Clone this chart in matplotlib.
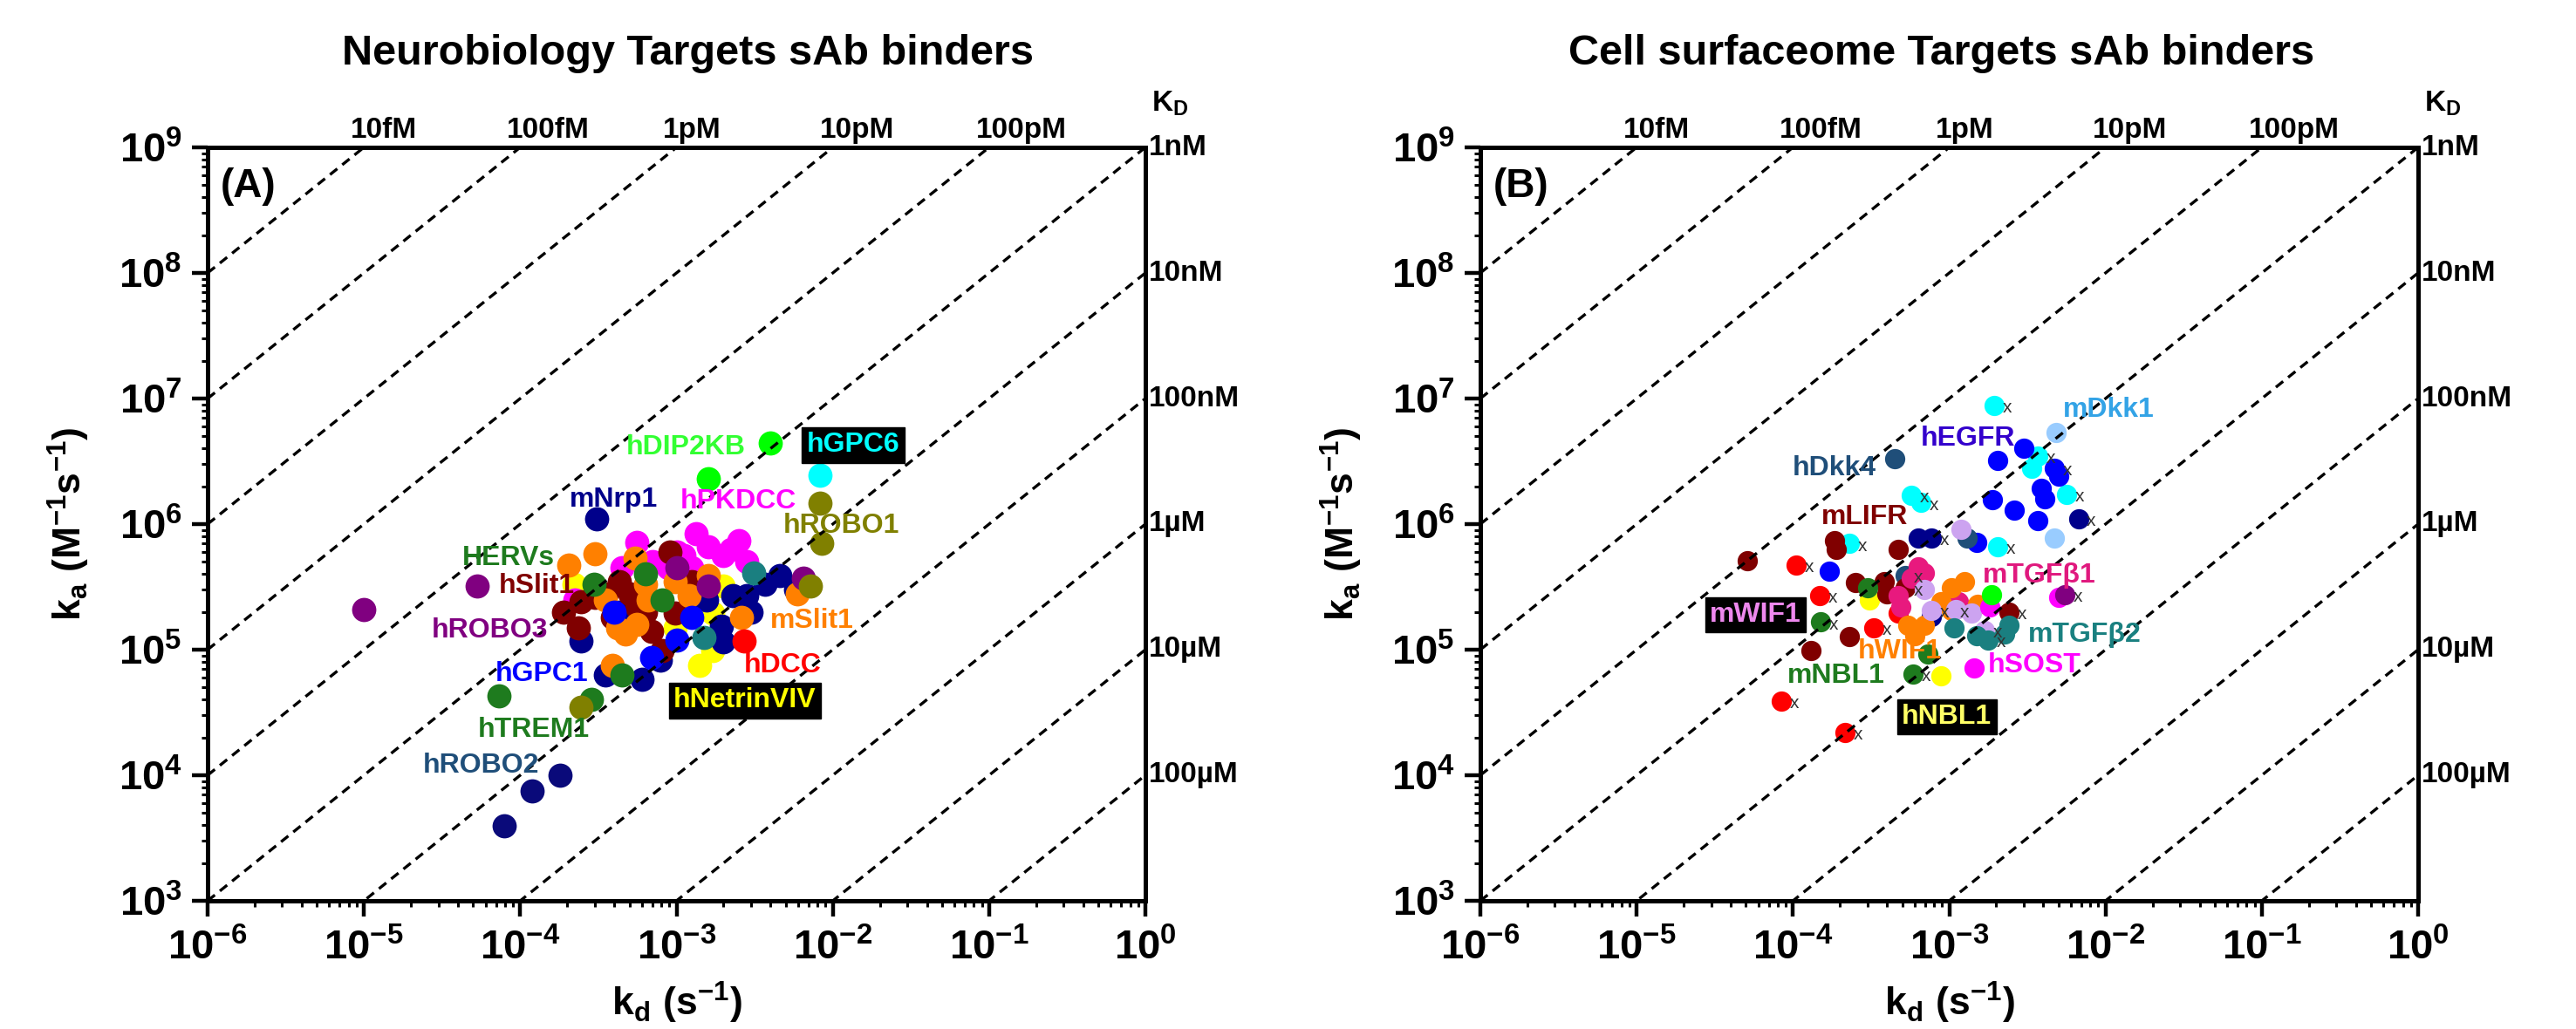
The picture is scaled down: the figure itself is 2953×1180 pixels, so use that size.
import numpy as np
import matplotlib
matplotlib.use("Agg")
import matplotlib.pyplot as plt
from matplotlib.ticker import LogLocator, NullFormatter

plt.rcParams['font.family'] = ['Liberation Sans', 'DejaVu Sans']
plt.rcParams['font.weight'] = 'bold'
plt.rcParams['mathtext.fontset'] = 'custom'
plt.rcParams['mathtext.rm'] = 'Liberation Sans:bold'
plt.rcParams['mathtext.it'] = 'Liberation Sans:bold'
plt.rcParams['mathtext.bf'] = 'Liberation Sans:bold'
plt.rcParams['mathtext.default'] = 'rm'

# ---------------- axes / iso-affinity data ----------------
XTICKS = [1e-6, 1e-5, 1e-4, 1e-3, 1e-2, 1e-1, 1e0]
XTICK_EXP = [-6, -5, -4, -3, -2, -1, 0]
YTICKS = [1e3, 1e4, 1e5, 1e6, 1e7, 1e8, 1e9]
YTICK_EXP = [3, 4, 5, 6, 7, 8, 9]
KD_LINES = [1e-14, 1e-13, 1e-12, 1e-11, 1e-10, 1e-9, 1e-8, 1e-7, 1e-6, 1e-5, 1e-4]
TOP_KD = [1e-14, 1e-13, 1e-12, 1e-11, 1e-10]
TOP_KD_LABELS = ['10fM', '100fM', '1pM', '10pM', '100pM']
RIGHT_KD = [1e-9, 1e-8, 1e-7, 1e-6, 1e-5, 1e-4]
RIGHT_KD_LABELS = ['1nM', '10nM', '100nM', '1\u00b5M', '10\u00b5M', '100\u00b5M']

# ---------------- Panel A data (kd s^-1, ka M^-1 s^-1) ----------------
A_hNetrinVIV_kd = [1.4e-3, 9.8e-4, 2.0e-3, 1.7e-3, 1.7e-3, 2.2e-4]
A_hNetrinVIV_ka = [7.5e4, 1.5e5, 3.2e5, 1.95e5, 9.8e4, 3.3e5]
A_hPKDCC_kd = [1.33e-3, 2.5e-3, 5.6e-4, 1.12e-3, 2.0e-3, 2.8e-3, 1.6e-3, 8.9e-4, 4.5e-4, 2.24e-3, 1.26e-3, 2.24e-4, 1.0e-3, 7.0e-4]
A_hPKDCC_ka = [8.4e5, 7.4e5, 7.1e5, 5.6e5, 5.6e5, 5.0e5, 6.6e5, 4.5e5, 4.5e5, 6.3e5, 4.5e5, 2.5e5, 6.0e5, 5.0e5]
A_mNrp1_kd = [3.1e-4, 4.3e-4, 1.55e-3, 2.3e-3, 1.95e-3, 2.0e-3, 2.8e-3, 3.7e-3, 4.6e-3, 7.9e-4, 6.0e-4, 3.5e-4, 2.45e-4, 5.8e-3, 1.2e-3, 3.0e-3]
A_mNrp1_ka = [1.1e6, 2.0e5, 2.5e5, 2.7e5, 1.55e5, 1.15e5, 2.7e5, 3.3e5, 3.9e5, 8.3e4, 5.8e4, 6.3e4, 1.17e5, 3.0e5, 2.2e5, 2.0e5]
A_hSlit1_kd = [9.1e-4, 1.9e-4, 2.45e-4, 4.3e-4, 3.9e-4, 6.9e-4, 9.8e-4, 1.26e-3, 2.35e-4, 5.6e-4, 5.0e-4, 3.55e-4, 6.3e-4, 8.1e-4, 3.0e-4]
A_hSlit1_ka = [6.0e5, 2.0e5, 2.4e5, 3.5e5, 1.8e5, 1.4e5, 1.95e5, 3.5e5, 1.5e5, 2.2e5, 2.8e5, 2.8e5, 2.0e5, 9.8e4, 2.6e5]
A_mSlit1_kd = [3.0e-4, 2.05e-4, 5.4e-4, 3.5e-4, 6.3e-4, 6.6e-4, 4.7e-4, 9.8e-4, 1.6e-3, 2.6e-3, 5.9e-3, 3.9e-4, 5.6e-4, 4.2e-4, 1.2e-3]
A_mSlit1_ka = [5.8e5, 4.7e5, 5.4e5, 2.5e5, 3.3e5, 2.5e5, 1.33e5, 3.5e5, 3.9e5, 1.8e5, 2.8e5, 7.5e4, 1.6e5, 1.5e5, 2.7e5]
A_hGPC1_kd = [1.26e-3, 1.0e-3, 6.9e-4, 4.0e-4]
A_hGPC1_ka = [1.8e5, 1.2e5, 8.7e4, 2.0e5]
A_HERVs_kd = [2.95e-4, 8.1e-4, 4.5e-4, 6.3e-4]
A_HERVs_ka = [3.3e5, 2.5e5, 6.3e4, 4.0e5]
A_hTREM1_kd = [7.3e-5, 2.85e-4]
A_hTREM1_ka = [4.3e4, 4.0e4]
A_teal_kd = [1.5e-3, 3.1e-3]
A_teal_ka = [1.26e5, 4.1e5]
A_hROBO3_kd = [1.0e-5, 5.3e-5, 6.5e-3, 1.6e-3, 1.0e-3]
A_hROBO3_ka = [2.1e5, 3.2e5, 3.7e5, 3.2e5, 4.5e5]
A_hROBO1_kd = [8.3e-3, 8.5e-3, 7.2e-3, 2.45e-4]
A_hROBO1_ka = [1.47e6, 7.0e5, 3.2e5, 3.5e4]
A_hDCC_kd = [2.7e-3]
A_hDCC_ka = [1.17e5]
A_hROBO2_kd = [1.8e-4, 1.19e-4, 7.9e-5]
A_hROBO2_ka = [1.0e4, 7.5e3, 3.95e3]
A_hDIP2KB_kd = [4.0e-3, 1.6e-3]
A_hDIP2KB_ka = [4.4e6, 2.3e6]
A_hGPC6_kd = [8.3e-3]
A_hGPC6_ka = [2.45e6]

A_SERIES = [
    (A_hNetrinVIV_kd, A_hNetrinVIV_ka, '#FFFF00'),
    (A_hPKDCC_kd, A_hPKDCC_ka, '#FF00FF'),
    (A_mNrp1_kd, A_mNrp1_ka, '#00008B'),
    (A_hSlit1_kd, A_hSlit1_ka, '#800000'),
    (A_mSlit1_kd, A_mSlit1_ka, '#FF8000'),
    (A_hGPC1_kd, A_hGPC1_ka, '#0000FF'),
    (A_HERVs_kd, A_HERVs_ka, '#1E7B1E'),
    (A_hTREM1_kd, A_hTREM1_ka, '#1E7B1E'),
    (A_teal_kd, A_teal_ka, '#1A7F80'),
    (A_hROBO3_kd, A_hROBO3_ka, '#800080'),
    (A_hROBO1_kd, A_hROBO1_ka, '#808000'),
    (A_hDCC_kd, A_hDCC_ka, '#FF0000'),
    (A_hROBO2_kd, A_hROBO2_ka, '#0A0A7A'),
    (A_hDIP2KB_kd, A_hDIP2KB_ka, '#00FF00'),
    (A_hGPC6_kd, A_hGPC6_ka, '#00FFFF'),
]

A_LABELS = [  # text, colour, x (axes frac), y (axes frac), boxed
    ('hDIP2KB', '#33FF33', 0.4465, 0.602, False),
    ('hGPC6', '#00FFFF', 0.639, 0.605, True),
    ('mNrp1', '#00008B', 0.386, 0.532, False),
    ('hPKDCC', '#FF00FF', 0.504, 0.530, False),
    ('hROBO1', '#808000', 0.614, 0.498, False),
    ('HERVs', '#1E7B1E', 0.2716, 0.455, False),
    ('hSlit1', '#800000', 0.3107, 0.418, False),
    ('hROBO3', '#800080', 0.2391, 0.359, False),
    ('hGPC1', '#0000FF', 0.307, 0.301, False),
    ('hTREM1', '#1E7B1E', 0.2884, 0.227, False),
    ('hROBO2', '#1F4E79', 0.2298, 0.179, False),
    ('mSlit1', '#FF8000', 0.600, 0.3715, False),
    ('hDCC', '#FF0000', 0.572, 0.3125, False),
    ('hNetrinVIV', '#FFFF00', 0.4967, 0.266, True),
]

# ---------------- Panel B data ----------------
B_cyan_kd = [1.95e-3, 3.7e-3, 3.35e-3, 5.6e-3, 2.05e-3, 5.7e-4, 6.6e-4, 2.3e-4]
B_cyan_ka = [8.8e6, 3.5e6, 2.8e6, 1.73e6, 6.6e5, 1.69e6, 1.48e6, 7.0e5]
B_cyan_x = [1, 1, 0, 1, 1, 1, 1, 1]
B_hEGFR_kd = [3.0e-3, 2.05e-3, 4.7e-3, 5.0e-3, 3.9e-3, 4.1e-3, 1.9e-3, 2.6e-3, 3.7e-3, 1.7e-4, 1.5e-3]
B_hEGFR_ka = [4.0e6, 3.2e6, 2.8e6, 2.4e6, 1.93e6, 1.6e6, 1.56e6, 1.29e6, 1.07e6, 4.2e5, 7.2e5]
B_hEGFR_x = [0, 0, 1, 0, 0, 0, 0, 0, 0, 0, 0]
B_mDkk1_kd = [4.8e-3, 4.7e-3]
B_mDkk1_ka = [5.4e6, 7.8e5]
B_mDkk1_x = [0, 0]
B_navy_kd = [6.7e-3, 6.3e-4, 7.7e-4, 7.7e-4]
B_navy_ka = [1.1e6, 7.8e5, 7.8e5, 1.85e5]
B_navy_x = [1, 0, 1, 0]
B_hDkk4_kd = [4.5e-4, 1.3e-3, 5.2e-4]
B_hDkk4_ka = [3.3e6, 7.8e5, 3.9e5]
B_hDkk4_x = [0, 0, 1]
B_mLIFR_kd = [1.84e-4, 1.9e-4, 5.1e-5, 4.7e-4, 2.5e-4, 3.85e-4, 4.0e-4, 5.2e-4, 2.3e-4, 1.3e-4, 2.4e-3]
B_mLIFR_ka = [7.4e5, 6.3e5, 5.1e5, 6.3e5, 3.4e5, 3.5e5, 2.8e5, 3.1e5, 1.27e5, 9.8e4, 2.0e5]
B_mLIFR_x = [0, 0, 0, 0, 0, 0, 0, 1, 0, 0, 1]
B_red_kd = [1.05e-4, 1.48e-4, 4.7e-4, 3.3e-4, 8.4e-5, 2.15e-4]
B_red_ka = [4.7e5, 2.7e5, 1.95e5, 1.49e5, 3.9e4, 2.2e4]
B_red_x = [1, 1, 0, 1, 1, 1]
B_mTGFb1_kd = [6.3e-4, 6.9e-4, 5.7e-4, 4.7e-4, 4.9e-4, 1.15e-3]
B_mTGFb1_ka = [4.6e5, 4.1e5, 3.7e5, 2.7e5, 2.2e5, 2.4e5]
B_mTGFb1_x = [0, 0, 0, 0, 0, 0]
B_mWIF1_kd = [1.19e-3, 6.9e-4, 7.7e-4, 1.38e-3, 1.68e-3, 1.1e-3]
B_mWIF1_ka = [9.1e5, 3.0e5, 2.05e5, 1.95e5, 1.42e5, 2.1e5]
B_mWIF1_x = [0, 0, 1, 0, 1, 0]
B_hWIF1_kd = [1.03e-3, 1.25e-3, 5.4e-4, 6.9e-4, 8.9e-4, 1.03e-3, 1.52e-3, 6.0e-4]
B_hWIF1_ka = [3.1e5, 3.5e5, 1.57e5, 1.57e5, 2.4e5, 2.05e5, 2.3e5, 1.3e5]
B_hWIF1_x = [0, 0, 0, 0, 0, 1, 0, 0]
B_mTGFb2_kd = [2.4e-3, 1.77e-3, 1.08e-3, 2.26e-3, 1.5e-3]
B_mTGFb2_ka = [1.57e5, 1.2e5, 1.49e5, 1.34e5, 1.3e5]
B_mTGFb2_x = [0, 1, 0, 0, 0]
B_hSOST_kd = [1.45e-3, 1.81e-3, 5.0e-3]
B_hSOST_ka = [7.1e4, 2.2e5, 2.6e5]
B_hSOST_x = [0, 0, 0]
B_purple_kd = [5.5e-3]
B_purple_ka = [2.75e5]
B_purple_x = [1]
B_lime_kd = [1.86e-3]
B_lime_ka = [2.75e5]
B_lime_x = [0]
B_mNBL1_kd = [3.0e-4, 1.5e-4, 7.3e-4, 5.85e-4]
B_mNBL1_ka = [3.1e5, 1.66e5, 9.3e4, 6.4e4]
B_mNBL1_x = [0, 1, 0, 1]
B_hNBL1_kd = [8.9e-4, 3.1e-4]
B_hNBL1_ka = [6.2e4, 2.5e5]
B_hNBL1_x = [0, 0]

B_SERIES = [
    (B_hNBL1_kd, B_hNBL1_ka, B_hNBL1_x, '#FFFF00'),
    (B_cyan_kd, B_cyan_ka, B_cyan_x, '#00FFFF'),
    (B_hEGFR_kd, B_hEGFR_ka, B_hEGFR_x, '#0000FF'),
    (B_mDkk1_kd, B_mDkk1_ka, B_mDkk1_x, '#99CCFF'),
    (B_navy_kd, B_navy_ka, B_navy_x, '#00008B'),
    (B_hDkk4_kd, B_hDkk4_ka, B_hDkk4_x, '#1F4E79'),
    (B_mLIFR_kd, B_mLIFR_ka, B_mLIFR_x, '#800000'),
    (B_red_kd, B_red_ka, B_red_x, '#FF0000'),
    (B_mTGFb1_kd, B_mTGFb1_ka, B_mTGFb1_x, '#E8197E'),
    (B_hWIF1_kd, B_hWIF1_ka, B_hWIF1_x, '#FF8000'),
    (B_mWIF1_kd, B_mWIF1_ka, B_mWIF1_x, '#CCA3F0'),
    (B_mTGFb2_kd, B_mTGFb2_ka, B_mTGFb2_x, '#1A7F80'),
    (B_hSOST_kd, B_hSOST_ka, B_hSOST_x, '#FF00FF'),
    (B_purple_kd, B_purple_ka, B_purple_x, '#800080'),
    (B_lime_kd, B_lime_ka, B_lime_x, '#00FF00'),
    (B_mNBL1_kd, B_mNBL1_ka, B_mNBL1_x, '#1E7B1E'),
]

B_LABELS = [
    ('mDkk1', '#33A3E6', 0.6214, 0.6516, False),
    ('hEGFR', '#3300CC', 0.4698, 0.6134, False),
    ('hDkk4', '#1F4E79', 0.333, 0.574, False),
    ('mLIFR', '#800000', 0.3637, 0.5093, False),
    ('mTGF\u03b21', '#E0197E', 0.5358, 0.4317, False),
    ('mWIF1', '#EE88EE', 0.2447, 0.3796, True),
    ('mTGF\u03b22', '#1A8080', 0.584, 0.353, False),
    ('hWIF1', '#FF8000', 0.4028, 0.331, False),
    ('hSOST', '#FF00FF', 0.5414, 0.3125, False),
    ('mNBL1', '#1E7B1E', 0.3274, 0.2986, False),
    ('hNBL1', '#FFFF66', 0.4493, 0.2442, True),
]

# ---------------- figure ----------------
W, H = 2953, 1180
fig = plt.figure(figsize=(W / 100, H / 100), dpi=100)
axA = fig.add_axes([238 / W, 1 - 1033 / H, 1075 / W, 864 / H])
axB = fig.add_axes([1697 / W, 1 - 1033 / H, 1075 / W, 864 / H])

def style_axes(ax, tag):
    ax.set_xscale('log')
    ax.set_yscale('log')
    ax.set_xlim(1e-6, 1e0)
    ax.set_ylim(1e3, 1e9)
    for s in ax.spines.values():
        s.set_linewidth(3.6)
        s.set_color('black')
    ax.set_xticks(XTICKS)
    ax.set_xticklabels([r'$10^{%d}$' % e for e in XTICK_EXP])
    ax.set_yticks(YTICKS)
    ax.set_yticklabels([r'$10^{%d}$' % e for e in YTICK_EXP])
    ax.xaxis.set_minor_locator(LogLocator(base=10, subs=np.arange(2, 10), numticks=100))
    ax.yaxis.set_minor_locator(LogLocator(base=10, subs=np.arange(2, 10), numticks=100))
    ax.xaxis.set_minor_formatter(NullFormatter())
    ax.yaxis.set_minor_formatter(NullFormatter())
    ax.tick_params(which='major', direction='out', length=13, width=3.2,
                   labelsize=34, pad=8, top=False, right=False)
    ax.tick_params(which='minor', direction='out', length=5, width=2.2,
                   top=False, right=False)
    ax.tick_params(axis='x', which='major', pad=10)

    kd = np.logspace(-6, 0, 400)
    for K in KD_LINES:
        ax.plot(kd, kd / K, color='black', lw=2.4, ls=(0, (3.2, 2.2)), zorder=3)

    for K, lab in zip(TOP_KD, TOP_KD_LABELS):
        ax.annotate(lab, xy=(1e9 * K, 1e9), xytext=(-11, 8), textcoords='offset points',
                    ha='left', va='baseline', fontsize=24, fontweight='bold',
                    annotation_clip=False)
    for K, lab in zip(RIGHT_KD, RIGHT_KD_LABELS):
        ax.annotate(lab, xy=(1.0, 1.0 / K), xytext=(3, 0), textcoords='offset points',
                    ha='left', va='center', fontsize=24, fontweight='bold',
                    annotation_clip=False)
    ax.annotate(r'$K_D$', xy=(1.0, 1.0), xycoords='axes fraction', xytext=(5, 36),
                textcoords='offset points', ha='left', va='center', fontsize=24,
                annotation_clip=False)
    ax.text(0.014, 0.948, tag, transform=ax.transAxes, fontsize=33,
            fontweight='bold', ha='left', va='center')
    ax.set_xlabel(r'$k_d\ (s^{-1})$', fontsize=32, labelpad=10)
    ax.set_ylabel(r'$k_a\ (M^{-1}s^{-1})$', fontsize=32, labelpad=22)

def add_labels(ax, labels):
    for text, col, fx, fy, boxed in labels:
        kw = dict(transform=ax.transAxes, fontsize=23, fontweight='bold',
                  color=col, ha='left', va='center', zorder=5)
        if boxed:
            kw['bbox'] = dict(facecolor='black', edgecolor='black', pad=4)
        ax.text(fx, fy, text, **kw)

style_axes(axA, '(A)')
style_axes(axB, '(B)')

for kd, ka, col in A_SERIES:
    axA.scatter(kd, ka, s=400, color=col, linewidths=0, zorder=2)
add_labels(axA, A_LABELS)

for kd, ka, xs, col in B_SERIES:
    axB.scatter(kd, ka, s=280, color=col, linewidths=0, zorder=2)
    for k, a, f in zip(kd, ka, xs):
        if f:
            axB.annotate('x', xy=(k, a), xytext=(7, -2), textcoords='offset points',
                         fontsize=15, fontweight='normal', color='#333333',
                         ha='left', va='center', zorder=4)
add_labels(axB, B_LABELS)

fig.text(788 / W, 1 - 62 / H, 'Neurobiology Targets sAb binders', fontsize=35,
         fontweight='bold', ha='center', va='center')
fig.text(2226 / W, 1 - 62 / H, 'Cell surfaceome Targets sAb binders', fontsize=35,
         fontweight='bold', ha='center', va='center')

fig.savefig('out.png', dpi=100, facecolor='white')
